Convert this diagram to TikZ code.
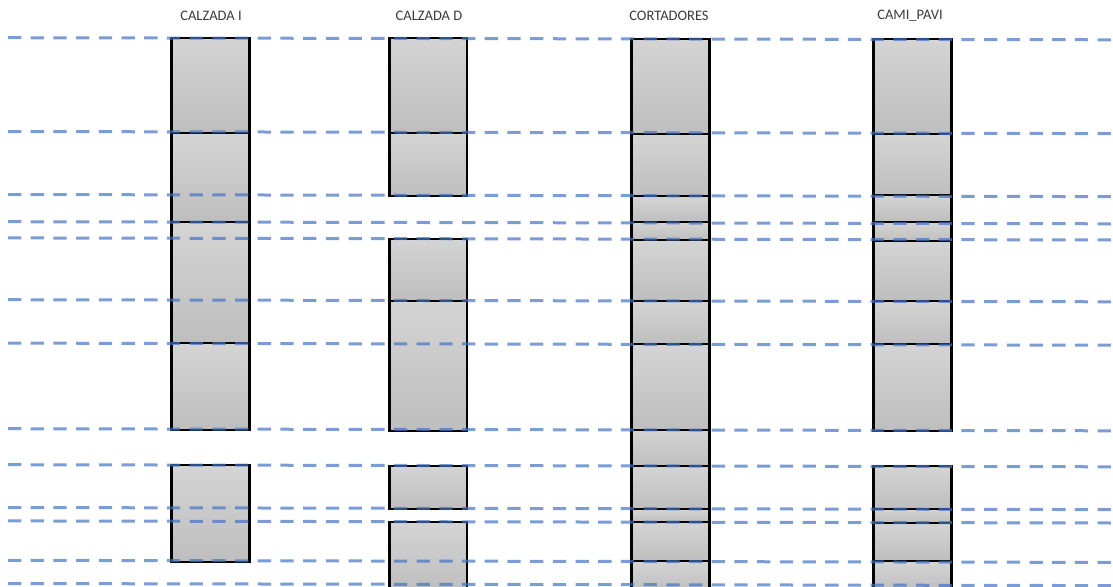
\documentclass[tikz,border=0pt]{standalone}
\usepackage{fontspec}
\setmainfont{Carlito}
\definecolor{segtop}{HTML}{D4D4D4}
\definecolor{segbot}{HTML}{BEBEBE}
\definecolor{guide}{HTML}{4472C4}
\definecolor{labeltext}{HTML}{3A3A3A}
\begin{document}
\begin{tikzpicture}[x=1pt,y=-1pt,
  seg/.style={draw=black,line width=2.4pt,top color=segtop,bottom color=segbot},
  guideline/.style={draw=guide,draw opacity=0.7,line width=3pt,dash pattern=on 13.3pt off 9.4pt,dash phase=14.7pt},
  collabel/.style={font=\fontsize{14.5}{17}\selectfont,text=labeltext,inner sep=0pt}]
\useasboundingbox (0,0) rectangle (1113,586);
\clip (0,0) rectangle (1113,586);
% labels
\node[collabel] (lblI) at (211,16) {CALZADA I};
\node[collabel] (lblD) at (429,16) {CALZADA D};
\node[collabel] (lblC) at (669,16) {CORTADORES};
\node[collabel] (lblP) at (910,16) {CAMI\_PAVI};
% CALZADA I
\foreach \a/\b in {38/133,133/222,222/343,343/430,465/562}
  \path[seg] (171.5,\a) rectangle (249.5,\b);
% CALZADA D
\foreach \a/\b in {38/133,133/196,239/301,301/431,466/509,522/592}
  \path[seg] (389.5,\a) rectangle (467,\b);
% CORTADORES
\foreach \a/\b in {39/134,134/196,196/222,222/240,240/301,301/344,344/430,430/466,466/509,509/522,522/561,561/592}
  \path[seg] (631.5,\a) rectangle (709.5,\b);
% CAMI_PAVI
\foreach \a/\b in {39/134,134/195,195/222,222/241,241/301,301/344,344/431,466/509,509/523,523/561,561/592}
  \path[seg] (873.5,\a) rectangle (951.5,\b);
% guide lines
\foreach \y in {38.6,132.4,195.4,222.6,238.8,300.6,344,429.6,465.6,508.4,521.8,561.2,584.4}
  \path[guideline] (0,\y-0.9) -- (1113,\y+1.2);
\end{tikzpicture}
\end{document}
